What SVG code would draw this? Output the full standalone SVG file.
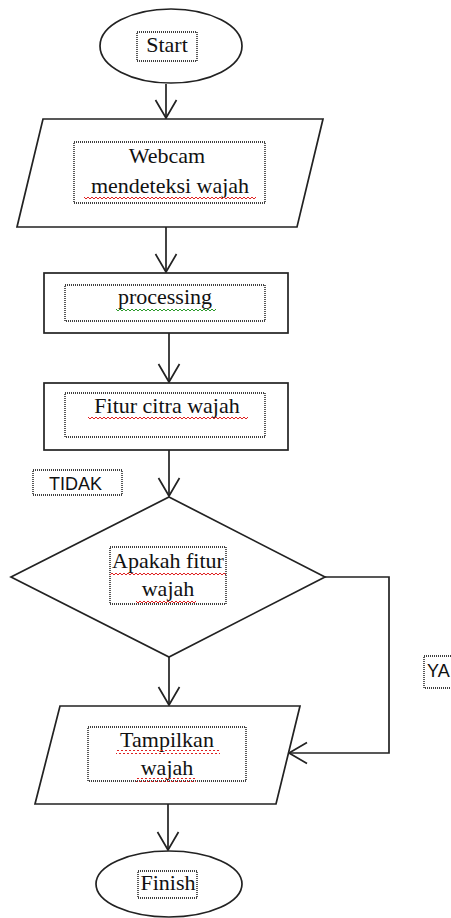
<svg xmlns="http://www.w3.org/2000/svg" width="451" height="918" viewBox="0 0 451 918">
<style>
.shape{fill:#fff;stroke:#222;stroke-width:1.7}
.box{fill:none;stroke:#000;stroke-width:1.3;stroke-dasharray:1 1}
.t{font-family:"Liberation Serif","Times New Roman",serif;font-size:22px;fill:#111;text-anchor:middle}
.s{font-family:"Liberation Sans",Arial,sans-serif;font-size:18px;fill:#111}
.conn{fill:none;stroke:#222;stroke-width:1.7}
.red{fill:url(#wavyR)}
.grn{fill:url(#wavyG)}
</style>
<defs>
<marker id="arr" markerUnits="userSpaceOnUse" markerWidth="24" markerHeight="26" refX="20" refY="12" orient="auto" viewBox="0 0 24 24">
<path d="M2 1.5 L20 12 L2 22.5" fill="none" stroke="#222" stroke-width="1.7"/>
</marker>
<pattern id="wavyR" patternUnits="userSpaceOnUse" width="4" height="4">
<path d="M0 1 L2 3 L4 1" fill="none" stroke="#e02020" stroke-width="1"/>
</pattern>
<pattern id="wavyG" patternUnits="userSpaceOnUse" width="4" height="4">
<path d="M0 1 L2 3 L4 1" fill="none" stroke="#2a9a2a" stroke-width="1"/>
</pattern>
</defs>
<g id="connectors">
<line class="conn" x1="166" y1="84" x2="166" y2="118" marker-end="url(#arr)"/>
<line class="conn" x1="166" y1="227" x2="166" y2="272" marker-end="url(#arr)"/>
<line class="conn" x1="169" y1="333" x2="169" y2="382" marker-end="url(#arr)"/>
<line class="conn" x1="169" y1="450" x2="169" y2="496" marker-end="url(#arr)"/>
<line class="conn" x1="169" y1="657" x2="169" y2="705" marker-end="url(#arr)"/>
<polyline class="conn" points="325,577 389,577 389,753 289,753" marker-end="url(#arr)"/>
<line class="conn" x1="168" y1="804" x2="168" y2="850" marker-end="url(#arr)"/>
</g>
<g id="start">
<ellipse class="shape" cx="171" cy="46" rx="71" ry="37"/>
<rect class="box" x="137" y="32" width="60" height="29"/>
<text class="t" x="167" y="52">Start</text>
</g>
<g id="webcam">
<polygon class="shape" points="43,119 323,119 297,227 17,227"/>
<rect class="box" x="74" y="142" width="191" height="61"/>
<text class="t" x="167" y="163">Webcam</text>
<text class="t" x="170" y="193">mendeteksi wajah</text>
<rect class="red" x="84" y="196" width="172" height="4"/>
</g>
<g id="processing">
<rect class="shape" x="44" y="273" width="244" height="60"/>
<rect class="box" x="65" y="285" width="200" height="36"/>
<text class="t" x="165" y="304">processing</text>
<rect class="grn" x="116" y="308" width="100" height="4"/>
</g>
<g id="fitur">
<rect class="shape" x="44" y="383" width="244" height="67"/>
<rect class="box" x="65" y="393" width="200" height="44"/>
<text class="t" x="167" y="413">Fitur citra wajah</text>
<rect class="red" x="88" y="416" width="160" height="4"/>
</g>
<g id="tidak">
<rect class="box" x="33" y="470" width="89" height="25"/>
<text class="s" x="49" y="490">TIDAK</text>
</g>
<g id="decision">
<polygon class="shape" points="169,497 325,577 169,657 11,577"/>
<rect class="box" x="110" y="547" width="116" height="57"/>
<text class="t" x="168" y="568">Apakah fitur</text>
<text class="t" x="168" y="596">wajah</text>
<rect class="red" x="110" y="572" width="116" height="4"/>
<rect class="red" x="136" y="600" width="60" height="4"/>
</g>
<g id="ya">
<rect class="box" x="424" y="656" width="32" height="32"/>
<text class="s" x="427" y="677">YA</text>
</g>
<g id="tampilkan">
<polygon class="shape" points="60,706 300,706 276,804 35,804"/>
<rect class="box" x="88" y="727" width="158" height="54"/>
<text class="t" x="167" y="747">Tampilkan</text>
<text class="t" x="167" y="775">wajah</text>
<rect class="red" x="116" y="750" width="104" height="4"/>
<rect class="red" x="136" y="778" width="60" height="4"/>
</g>
<g id="finish">
<ellipse class="shape" cx="169" cy="884" rx="73" ry="33"/>
<rect class="box" x="138" y="871" width="59" height="27"/>
<text class="t" x="168" y="890">Finish</text>
</g>
</svg>
